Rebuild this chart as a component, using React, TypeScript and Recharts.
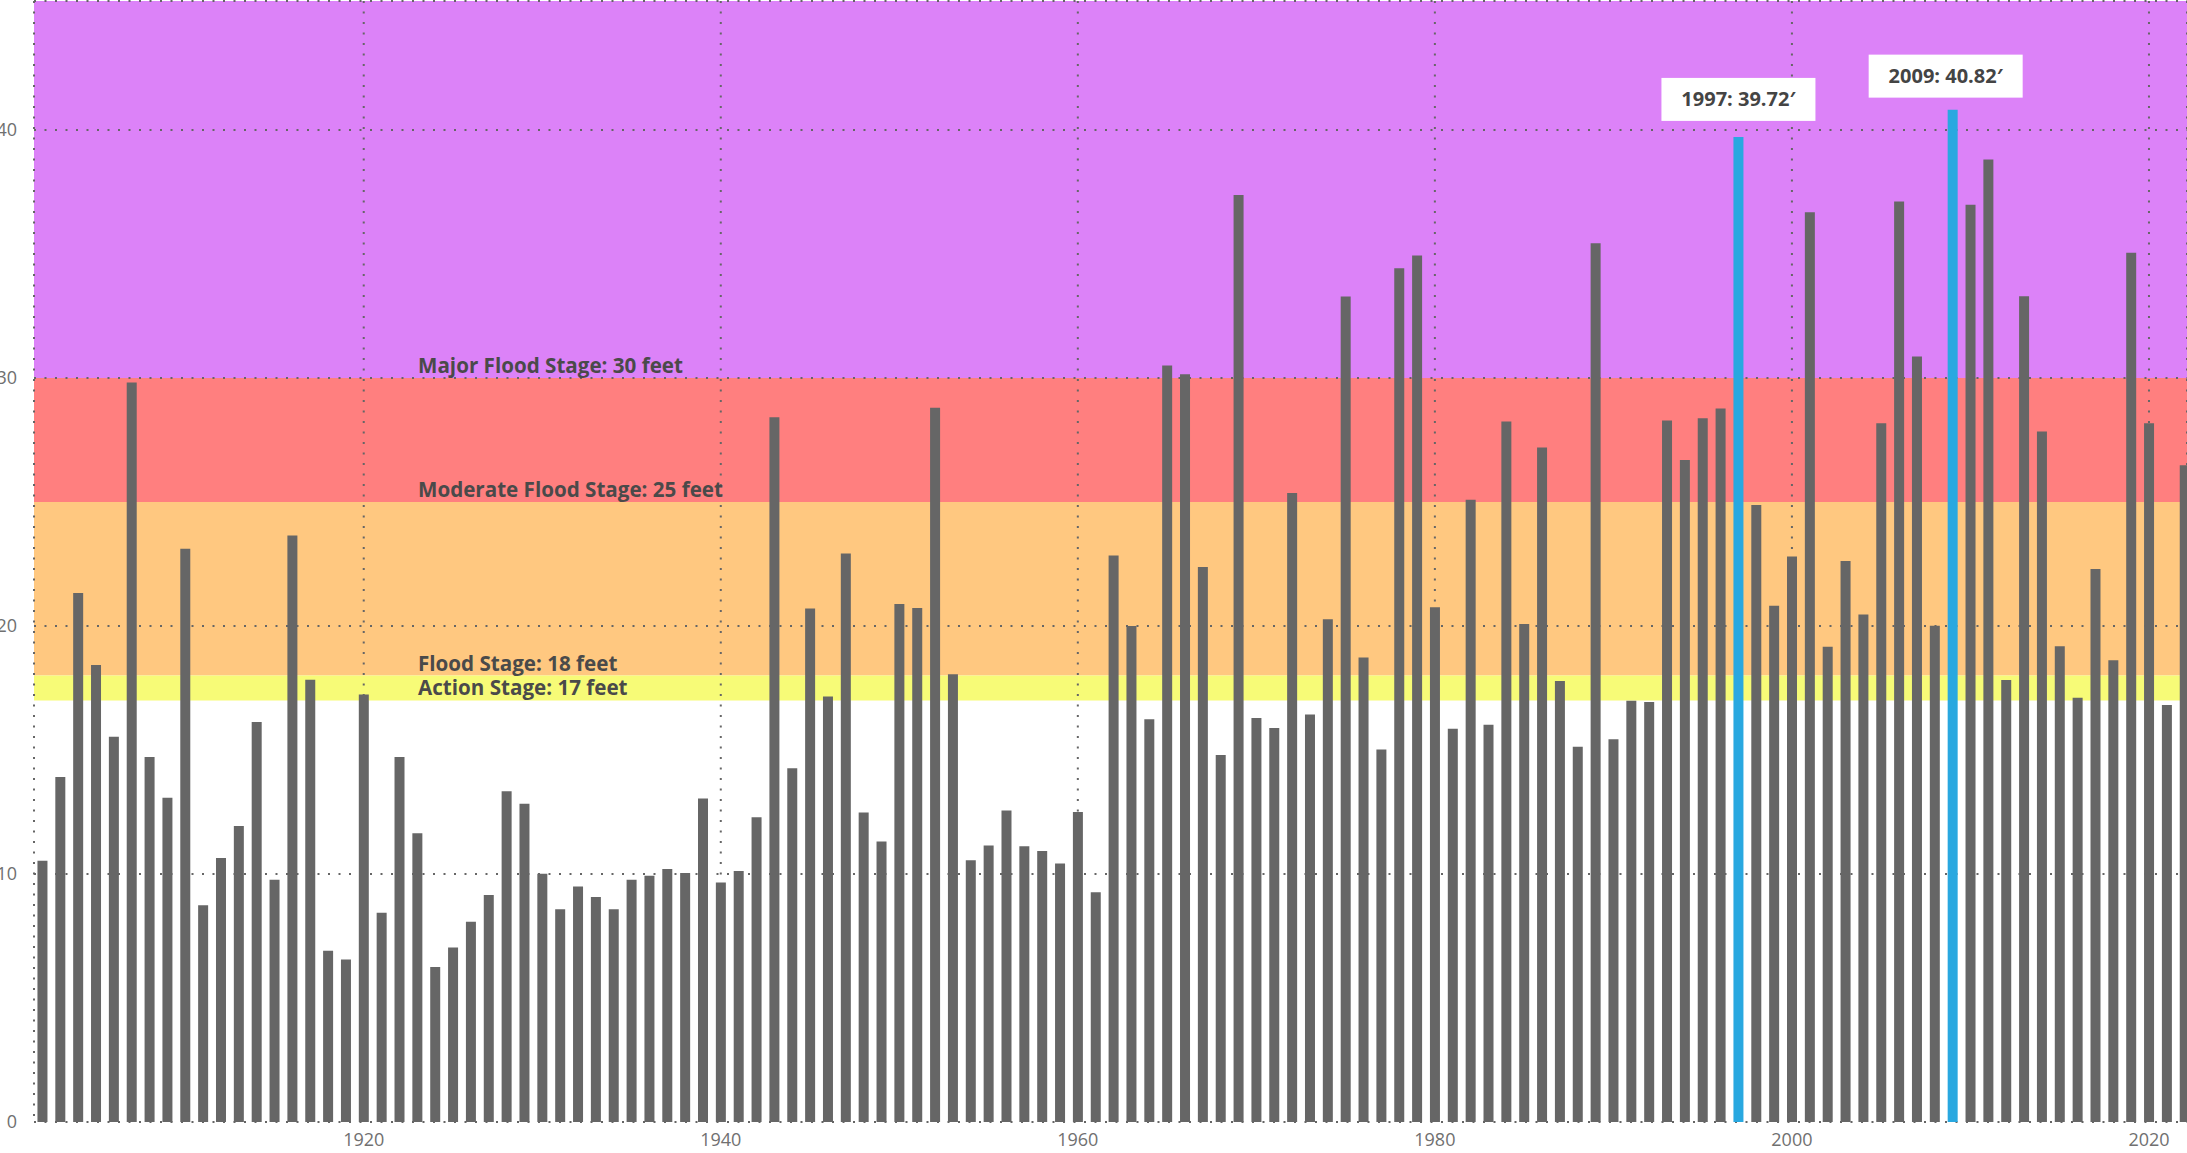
import React from 'react';
import { BarChart, Bar, XAxis, YAxis, CartesianGrid, ReferenceArea, ReferenceLine, Cell, LabelList } from 'recharts';

const years = [
  1902, 1903, 1904, 1905, 1906, 1907, 1908, 1909, 1910, 1911,
  1912, 1913, 1914, 1915, 1916, 1917, 1918, 1919, 1920, 1921,
  1922, 1923, 1924, 1925, 1926, 1927, 1928, 1929, 1930, 1931,
  1932, 1933, 1934, 1935, 1936, 1937, 1938, 1939, 1940, 1941,
  1942, 1943, 1944, 1945, 1946, 1947, 1948, 1949, 1950, 1951,
  1952, 1953, 1954, 1955, 1956, 1957, 1958, 1959, 1960, 1961,
  1962, 1963, 1964, 1965, 1966, 1967, 1968, 1969, 1970, 1971,
  1972, 1973, 1974, 1975, 1976, 1977, 1978, 1979, 1980, 1981,
  1982, 1983, 1984, 1985, 1986, 1987, 1988, 1989, 1990, 1991,
  1992, 1993, 1994, 1995, 1996, 1997, 1998, 1999, 2000, 2001,
  2002, 2003, 2004, 2005, 2006, 2007, 2008, 2009, 2010, 2011,
  2012, 2013, 2014, 2015, 2016, 2017, 2018, 2019, 2020, 2021,
  2022,
];

const crests = [
  10.53, 13.91, 21.33, 18.43, 15.53, 29.82, 14.72, 13.07, 23.11, 8.74,
  10.64, 11.94, 16.13, 9.77, 23.65, 17.83, 6.9, 6.55, 17.24, 8.44,
  14.72, 11.64, 6.25, 7.04, 8.07, 9.15, 13.34, 12.83, 10.01, 8.58,
  9.5, 9.07, 8.58, 9.77, 9.93, 10.2, 10.04, 13.04, 9.66, 10.12,
  12.29, 28.42, 14.26, 20.7, 17.16, 22.92, 12.48, 11.31, 20.89, 20.73,
  28.8, 18.05, 10.55, 11.15, 12.56, 11.12, 10.93, 10.42, 12.5, 9.26,
  22.84, 20.0, 16.24, 30.5, 30.15, 22.38, 14.8, 37.38, 16.29, 15.89,
  25.36, 16.43, 20.27, 33.29, 18.73, 15.02, 34.42, 34.94, 20.76, 15.86,
  25.09, 16.02, 28.25, 20.08, 27.2, 17.78, 15.13, 35.43, 15.43, 16.99,
  16.93, 28.29, 26.69, 28.38, 28.77, 39.72, 24.88, 20.82, 22.8, 36.68,
  19.16, 22.62, 20.46, 28.17, 37.12, 30.87, 20.01, 40.82, 36.98, 38.81,
  17.82, 33.3, 27.84, 19.18, 17.11, 22.3, 18.62, 35.05, 28.17, 16.81,
  26.48,
];

const highlightYears = [1997, 2009];

const yTicks = [0, 10, 20, 30, 40];
const xTicks = [1920, 1940, 1960, 1980, 2000, 2020];

const stageBands = [
  { from: 30, to: 45.2, color: '#DC82F8' },
  { from: 25, to: 30, color: '#FF7F7F' },
  { from: 18, to: 25, color: '#FFC880' },
  { from: 17, to: 18, color: '#F7FB77' },
];

const stageLabels = [
  { level: 30, text: 'Major Flood Stage: 30 feet' },
  { level: 25, text: 'Moderate Flood Stage: 25 feet' },
  { level: 18, text: 'Flood Stage: 18 feet' },
  { level: 17, text: 'Action Stage: 17 feet' },
];

const data = years.map((year, i) => ({
  year,
  crest: crests[i],
  note: highlightYears.includes(year) ? `${year}: ${crests[i].toFixed(2)}\u2032` : '',
}));

const FONT = '"Open Sans", "Noto Sans", sans-serif';

const NoteLabel = (props: any) => {
  const { x, y, width, value } = props;
  if (!value) return null;
  const is2009 = String(value).startsWith('2009');
  const cx = Number(x) + Number(width) / 2 + (is2009 ? -7 : 0);
  const boxW = 154;
  const boxH = 43;
  const gap = is2009 ? 12 : 16;
  const top = Number(y) - gap - boxH;
  return (
    <g>
      <rect x={cx - boxW / 2} y={top} width={boxW} height={boxH} fill="#ffffff" />
      <text
        x={cx}
        y={top + boxH / 2}
        dy="0.35em"
        textAnchor="middle"
        fontFamily={FONT}
        fontWeight={700}
        fontSize={20}
        fill="#444444"
      >
        {value}
      </text>
    </g>
  );
};

const makeStageLabel = (text: string) => (props: any) => {
  const vb = props.viewBox || {};
  return (
    <text
      x={Number(vb.x) + 384}
      y={Number(vb.y) - 5}
      fontFamily={FONT}
      fontWeight={700}
      fontSize={20.6}
      fill="#4a4a4a"
    >
      {text}
    </text>
  );
};

export default function App() {
  return (
    <div style={{ position: 'fixed', left: 0, top: 0, width: 2187, height: 1153, overflow: 'hidden', background: '#ffffff' }}>
      <BarChart
        width={2187}
        height={1153}
        data={data}
        margin={{ top: 1, right: 0, bottom: 0, left: 0 }}
        style={{ fontFamily: FONT }}
      >
        {stageBands.map((b) => (
          <ReferenceArea
            key={b.from}
            y1={b.from}
            y2={b.to}
            fill={b.color}
            fillOpacity={1}
            stroke="none"
            ifOverflow="extendDomain"
            zIndex={-200}
          />
        ))}
        <CartesianGrid stroke="#666666" strokeWidth={2} strokeDasharray="2 8.5" zIndex={-100} />
        <XAxis
          dataKey="year"
          type="number"
          domain={[1901.53, 2022.13]}
          allowDataOverflow
          ticks={xTicks}
          axisLine={false}
          tickLine={false}
          tickSize={0}
          tickMargin={11}
          height={31}
          tick={{ fill: '#707070', fontSize: 18, fontFamily: FONT }}
        />
        <YAxis
          type="number"
          domain={[0, 45.2]}
          allowDataOverflow
          ticks={yTicks}
          axisLine={false}
          tickLine={false}
          tickSize={0}
          tickMargin={17}
          width={34}
          tick={{ fill: '#707070', fontSize: 18, fontFamily: FONT }}
        />
        <Bar dataKey="crest" barSize={10} isAnimationActive={false} fill="#666666">
          {data.map((d) => (
            <Cell key={d.year} fill={highlightYears.includes(d.year) ? '#29A8E0' : '#666666'} />
          ))}
          <LabelList dataKey="note" content={NoteLabel} />
        </Bar>
        {stageLabels.map((s) => (
          <ReferenceLine
            key={s.level}
            y={s.level}
            stroke="none"
            label={makeStageLabel(s.text)}
          />
        ))}
      </BarChart>
    </div>
  );
}
